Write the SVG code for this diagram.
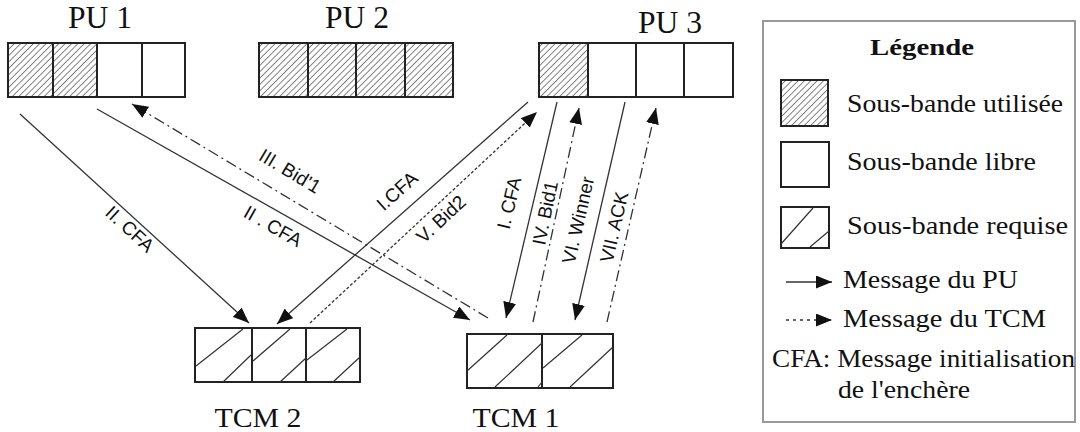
<svg xmlns="http://www.w3.org/2000/svg" width="1080" height="432" viewBox="0 0 1080 432">
<style>
.cell{fill:#fff;stroke:#222;stroke-width:2}
.used{fill:url(#hatch);stroke:#222;stroke-width:2}
.req{stroke:#333;stroke-width:1.2;fill:none}
.msg{stroke:#333;stroke-width:1.3;fill:none}
.pu{marker-end:url(#arr)}
.tcm{stroke-dasharray:11 4 2 4;marker-end:url(#arr)}
.dot{stroke-dasharray:3 2;marker-end:url(#arr)}
.lbl{font-family:"Liberation Sans",Arial,sans-serif;font-size:19px;fill:#111;text-anchor:middle}
.big{font-family:"Liberation Serif","Times New Roman",serif;fill:#111}
</style>
<defs>
<pattern id="hatch" patternUnits="userSpaceOnUse" width="4.5" height="4.5" patternTransform="rotate(45)">
<rect width="4.5" height="4.5" fill="#fff"/>
<line x1="0" y1="0" x2="0" y2="4.5" stroke="#333" stroke-width="1.2"/>
</pattern>
<marker id="arr" viewBox="0 0 16 13" refX="16" refY="6.5" markerWidth="16" markerHeight="13" markerUnits="userSpaceOnUse" orient="auto">
<path d="M0,0 L16,6.5 L0,13 z" fill="#111"/>
</marker>
</defs>
<rect width="1080" height="432" fill="#fff"/>

<g id="pu1">
<text class="big" x="100" y="28" font-size="31" text-anchor="middle" textLength="64" lengthAdjust="spacingAndGlyphs">PU 1</text>
<rect class="used" x="8" y="43" width="45" height="54"/>
<rect class="used" x="53" y="43" width="44" height="54"/>
<rect class="cell" x="97" y="43" width="45" height="54"/>
<rect class="cell" x="142" y="43" width="43" height="54"/>
</g>

<g id="pu2">
<text class="big" x="357" y="28" font-size="31" text-anchor="middle" textLength="64" lengthAdjust="spacingAndGlyphs">PU 2</text>
<rect class="used" x="259" y="43" width="49" height="54"/>
<rect class="used" x="308" y="43" width="48" height="54"/>
<rect class="used" x="356" y="43" width="49" height="54"/>
<rect class="used" x="405" y="43" width="48" height="54"/>
</g>

<g id="pu3">
<text class="big" x="670" y="33" font-size="31" text-anchor="middle" textLength="64" lengthAdjust="spacingAndGlyphs">PU 3</text>
<rect class="used" x="539" y="43" width="49" height="54"/>
<rect class="cell" x="588" y="43" width="48" height="54"/>
<rect class="cell" x="636" y="43" width="48" height="54"/>
<rect class="cell" x="684" y="43" width="49" height="54"/>
</g>

<g id="tcm2">
<rect class="cell" x="195" y="328" width="57" height="54"/>
<rect class="cell" x="252" y="328" width="54" height="54"/>
<rect class="cell" x="306" y="328" width="54" height="54"/>
<path class="req" d="M196,366 L243,329 M223,382 L251,355 M253,361 L290,329 M280,382 L306,358 M307,360 L347,329 M333,382 L360,357"/>
<text class="big" x="258" y="427" font-size="28" text-anchor="middle" textLength="87" lengthAdjust="spacingAndGlyphs">TCM 2</text>
</g>

<g id="tcm1">
<rect class="cell" x="467" y="334" width="75" height="54"/>
<rect class="cell" x="542" y="334" width="71" height="54"/>
<path class="req" d="M467,371 L507,335 M495,387 L542,343 M538,387 L542,382 M543,368 L582,335 M570,387 L613,347"/>
<text class="big" x="516" y="427" font-size="28" text-anchor="middle" textLength="87" lengthAdjust="spacingAndGlyphs">TCM 1</text>
</g>

<g id="connectors">
<line class="msg pu" x1="20" y1="114" x2="249" y2="323"/>
<line class="msg pu" x1="97" y1="109" x2="470" y2="320"/>
<line class="msg tcm" x1="488" y1="318" x2="132" y2="104"/>
<line class="msg pu" x1="528" y1="102" x2="277" y2="324"/>
<line class="msg dot" x1="310" y1="323" x2="537" y2="112"/>
<line class="msg pu" x1="557" y1="102" x2="506" y2="318"/>
<line class="msg tcm" x1="533" y1="322" x2="579" y2="108"/>
<line class="msg pu" x1="625" y1="102" x2="575" y2="320"/>
<line class="msg tcm" x1="607" y1="322" x2="656" y2="108"/>
<text class="lbl" x="130" y="229" dy="0.35em" transform="rotate(42.4 130 229)">II. CFA</text>
<text class="lbl" x="273" y="226" dy="0.35em" transform="rotate(29.5 273 226)">II . CFA</text>
<text class="lbl" x="290" y="171" dy="0.35em" transform="rotate(31 290 171)">III. Bid'1</text>
<text class="lbl" x="397" y="191" dy="0.35em" transform="rotate(-41.7 397 191)">I.CFA</text>
<text class="lbl" x="441" y="219" dy="0.35em" transform="rotate(-42.9 441 219)">V. Bid2</text>
<text class="lbl" x="509" y="203" dy="0.35em" transform="rotate(-76.7 509 203)">I. CFA</text>
<text class="lbl" x="545" y="213" dy="0.35em" transform="rotate(-78.4 545 213)">IV. Bid1</text>
<text class="lbl" x="578" y="220" dy="0.35em" transform="rotate(-77.1 578 220)">VI. Winner</text>
<text class="lbl" x="614" y="227" dy="0.35em" transform="rotate(-77.1 614 227)">VII. ACK</text>
</g>

<g id="legend">
<rect x="763" y="21" width="312" height="401" fill="#fff" stroke="#999" stroke-width="2"/>
<text class="big" x="922" y="55" font-size="24" font-weight="bold" text-anchor="middle" textLength="104" lengthAdjust="spacingAndGlyphs">Légende</text>
<rect class="used" x="781" y="80" width="47" height="46"/>
<text class="big" x="847" y="112" font-size="26" textLength="216" lengthAdjust="spacingAndGlyphs">Sous-bande utilisée</text>
<rect class="cell" x="781" y="142" width="48" height="45"/>
<text class="big" x="847" y="170" font-size="26" textLength="189" lengthAdjust="spacingAndGlyphs">Sous-bande libre</text>
<rect class="cell" x="781" y="207" width="48" height="41"/>
<path class="req" d="M781,244 L813,208 M810,247 L829,231"/>
<text class="big" x="847" y="234" font-size="26" textLength="221" lengthAdjust="spacingAndGlyphs">Sous-bande requise</text>
<line class="msg pu" x1="786" y1="282" x2="832" y2="282"/>
<text class="big" x="843" y="288" font-size="26" textLength="175" lengthAdjust="spacingAndGlyphs">Message du PU</text>
<line class="msg" x1="786" y1="320" x2="832" y2="320" stroke-dasharray="3 4" marker-end="url(#arr)"/>
<text class="big" x="843" y="327" font-size="26" textLength="203" lengthAdjust="spacingAndGlyphs">Message du TCM</text>
<text class="big" x="772" y="367" font-size="26" textLength="303" lengthAdjust="spacingAndGlyphs">CFA: Message initialisation</text>
<text class="big" x="838" y="398" font-size="26" textLength="132" lengthAdjust="spacingAndGlyphs">de l'enchère</text>
</g>
</svg>
